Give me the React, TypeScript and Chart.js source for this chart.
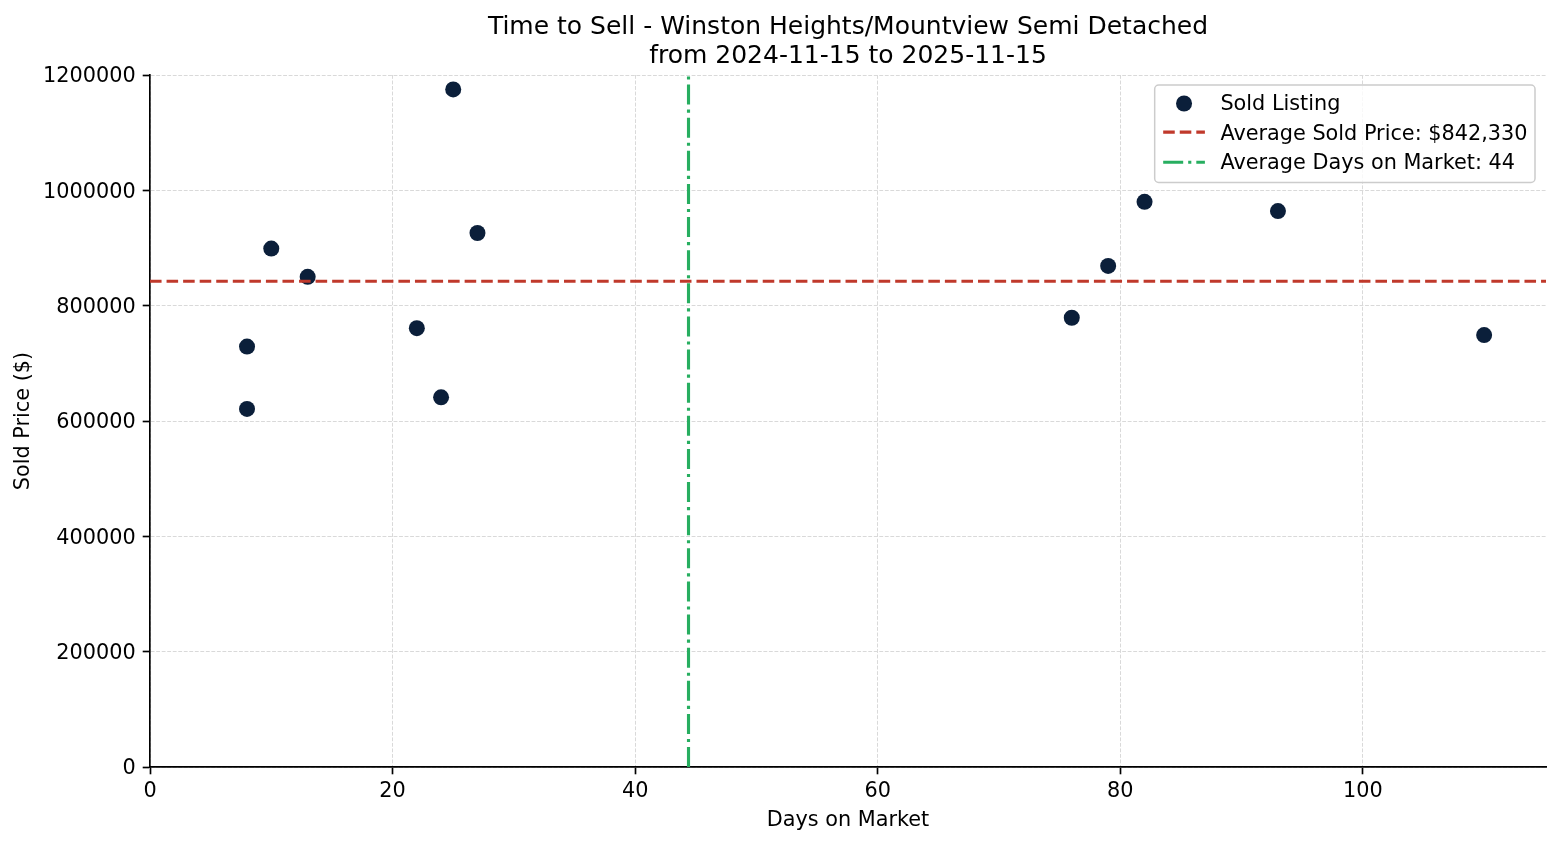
import React, { useEffect, useRef } from 'react';
import { Chart, registerables } from 'chart.js';

Chart.register(...registerables);

// ---- Data ----
const chartTitle = [
  'Time to Sell - Winston Heights/Mountview Semi Detached',
  'from 2024-11-15 to 2025-11-15',
];
const xAxisLabel = 'Days on Market';
const yAxisLabel = 'Sold Price ($)';

const daysOnMarket = [8, 8, 10, 13, 22, 24, 25, 27, 76, 79, 82, 93, 110];
const soldPrices = [
  729000, 621000, 899000, 850000, 761000, 641000, 1175000, 926000,
  779000, 869000, 980000, 964000, 749000,
];

const avgSoldPrice = 842330;
const avgDaysOnMarket = 44.4;

const xTicks = [0, 20, 40, 60, 80, 100];
const yTicks = [0, 200000, 400000, 600000, 800000, 1000000, 1200000];
const xLimits = [0, 115.1];
const yLimits = [0, 1200000];

const seriesNames = [
  'Sold Listing',
  'Average Sold Price: $' + avgSoldPrice.toLocaleString('en-US'),
  'Average Days on Market: ' + Math.round(avgDaysOnMarket),
];

// ---- Style ----
const FONT = '"DejaVu Sans", "Liberation Sans", sans-serif';
const NAVY = '#0b1f3a';
const RED = '#c0392b';
const GREEN = '#27ae60';
const GRID = '#d9d9d9';
const LW = 3.125;
const DASH = [11.56, 5];
const DASHDOT = [20, 5, 3.125, 5];

const titlePlugin = {
  id: 'mplTitle',
  afterDraw(chart: any) {
    const { ctx, chartArea } = chart;
    const cx = (chartArea.left + chartArea.right) / 2;
    ctx.save();
    ctx.fillStyle = '#000';
    ctx.font = `25px ${FONT}`;
    ctx.textAlign = 'center';
    ctx.textBaseline = 'alphabetic';
    ctx.fillText(chartTitle[0], cx, 34);
    ctx.fillText(chartTitle[1], cx, 63);
    ctx.restore();
  },
};

const legendPlugin = {
  id: 'mplLegend',
  afterDraw(chart: any) {
    const { ctx, chartArea } = chart;
    const fs = 20.8;
    ctx.save();
    ctx.font = `${fs}px ${FONT}`;
    const maxW = Math.max(...seriesNames.map((s) => ctx.measureText(s).width));
    const padL = 8.5;
    const handleLen = 41.7;
    const gap = 15.5;
    const padR = 7.5;
    const boxW = padL + handleLen + gap + maxW + padR;
    const boxH = 97.5;
    const right = chartArea.right - 11;
    const left = right - boxW;
    const top = chartArea.top + 10;

    // frame
    const r = 4;
    ctx.beginPath();
    ctx.moveTo(left + r, top);
    ctx.lineTo(right - r, top);
    ctx.arcTo(right, top, right, top + r, r);
    ctx.lineTo(right, top + boxH - r);
    ctx.arcTo(right, top + boxH, right - r, top + boxH, r);
    ctx.lineTo(left + r, top + boxH);
    ctx.arcTo(left, top + boxH, left, top + boxH - r, r);
    ctx.lineTo(left, top + r);
    ctx.arcTo(left, top, left + r, top, r);
    ctx.closePath();
    ctx.fillStyle = 'rgba(255,255,255,0.8)';
    ctx.fill();
    ctx.lineWidth = 1.5;
    ctx.strokeStyle = '#cccccc';
    ctx.stroke();

    const baselines = [top + 25, top + 54.6, top + 84.2];
    const hx0 = left + padL;
    const hx1 = hx0 + handleLen;
    const tx = hx1 + gap;

    // marker
    ctx.beginPath();
    ctx.arc((hx0 + hx1) / 2, baselines[0] - 6.5, 8, 0, Math.PI * 2);
    ctx.fillStyle = NAVY;
    ctx.fill();

    // red dashed
    ctx.lineWidth = LW;
    ctx.lineCap = 'butt';
    ctx.setLineDash(DASH);
    ctx.strokeStyle = RED;
    ctx.beginPath();
    ctx.moveTo(hx0, baselines[1] - 7.5);
    ctx.lineTo(hx1, baselines[1] - 7.5);
    ctx.stroke();

    // green dash-dot
    ctx.setLineDash(DASHDOT);
    ctx.strokeStyle = GREEN;
    ctx.beginPath();
    ctx.moveTo(hx0, baselines[2] - 7);
    ctx.lineTo(hx1, baselines[2] - 7);
    ctx.stroke();
    ctx.setLineDash([]);

    ctx.fillStyle = '#000';
    ctx.textAlign = 'left';
    ctx.textBaseline = 'alphabetic';
    seriesNames.forEach((s, i) => ctx.fillText(s, tx, baselines[i]));
    ctx.restore();
  },
};

export default function App() {
  const canvasRef = useRef<HTMLCanvasElement | null>(null);

  useEffect(() => {
    const canvas = canvasRef.current;
    if (!canvas) return;
    Chart.defaults.font.family = FONT;
    Chart.defaults.color = '#000';

    const scatterData = daysOnMarket.map((d, i) => ({ x: d, y: soldPrices[i] }));
    const priceLine = [
      { x: xLimits[0], y: avgSoldPrice },
      { x: xLimits[1], y: avgSoldPrice },
    ];
    const daysLine = [
      { x: avgDaysOnMarket, y: yLimits[0] },
      { x: avgDaysOnMarket, y: yLimits[1] },
    ];

    const tickFont = { size: 20.8, family: FONT };

    const chart = new Chart(canvas, {
      type: 'scatter',
      data: {
        datasets: [
          {
            type: 'scatter',
            label: seriesNames[0],
            data: scatterData,
            pointRadius: 8,
            pointHoverRadius: 8,
            pointBackgroundColor: NAVY,
            pointBorderWidth: 0,
            order: 3,
          },
          {
            type: 'line',
            label: seriesNames[1],
            data: priceLine,
            borderColor: RED,
            borderWidth: LW,
            borderDash: DASH,
            borderCapStyle: 'butt',
            pointRadius: 0,
            fill: false,
            tension: 0,
            order: 2,
          },
          {
            type: 'line',
            label: seriesNames[2],
            data: daysLine,
            borderColor: GREEN,
            borderWidth: LW,
            borderDash: DASHDOT,
            borderCapStyle: 'butt',
            pointRadius: 0,
            fill: false,
            tension: 0,
            order: 1,
          },
        ] as any,
      },
      options: {
        responsive: false,
        animation: false,
        devicePixelRatio: 1,
        events: [],
        layout: { padding: { top: 75, right: 14, left: 0, bottom: 0 } },
        plugins: {
          legend: { display: false },
          title: { display: false },
          tooltip: { enabled: false },
        },
        scales: {
          x: {
            type: 'linear',
            min: xLimits[0],
            max: xLimits[1],
            afterBuildTicks: (scale: any) => {
              scale.ticks = xTicks.map((v) => ({ value: v }));
            },
            afterFit: (scale: any) => {
              scale.height = 78;
            },
            ticks: {
              font: tickFont,
              color: '#000',
              padding: 5,
              maxRotation: 0,
              autoSkip: false,
              callback: (v: any) => String(v),
            },
            grid: {
              color: GRID,
              lineWidth: 1,
              drawTicks: true,
              tickLength: 7.3,
              tickColor: '#000',
              tickWidth: 1.67,
              tickBorderDash: [],
            },
            border: { display: true, color: '#000', width: 1.67, dash: [3.85, 1.67] },
            title: {
              display: true,
              text: xAxisLabel,
              font: { size: 20.8, family: FONT },
              color: '#000',
              padding: { top: 0, bottom: 12 },
            },
          },
          y: {
            type: 'linear',
            min: yLimits[0],
            max: yLimits[1],
            afterBuildTicks: (scale: any) => {
              scale.ticks = yTicks.map((v) => ({ value: v }));
            },
            afterFit: (scale: any) => {
              scale.width = 150;
            },
            ticks: {
              font: tickFont,
              color: '#000',
              padding: 7,
              labelOffset: 2,
              autoSkip: false,
              callback: (v: any) => String(v),
            },
            grid: {
              color: GRID,
              lineWidth: 1,
              drawTicks: true,
              tickLength: 7.3,
              tickColor: '#000',
              tickWidth: 1.67,
              tickBorderDash: [],
            },
            border: { display: true, color: '#000', width: 1.67, dash: [3.85, 1.67] },
            title: {
              display: true,
              text: yAxisLabel,
              font: { size: 20.8, family: FONT },
              color: '#000',
              padding: { top: 11.5, bottom: 0 },
            },
          },
        },
      },
      plugins: [titlePlugin, legendPlugin],
    } as any);

    return () => {
      chart.destroy();
    };
  }, []);

  return (
    <div style={{ position: 'absolute', left: 0, top: 0, width: 1560, height: 845, background: '#fff' }}>
      <canvas ref={canvasRef} width={1560} height={845} style={{ display: 'block', width: 1560, height: 845 }} />
    </div>
  );
}
